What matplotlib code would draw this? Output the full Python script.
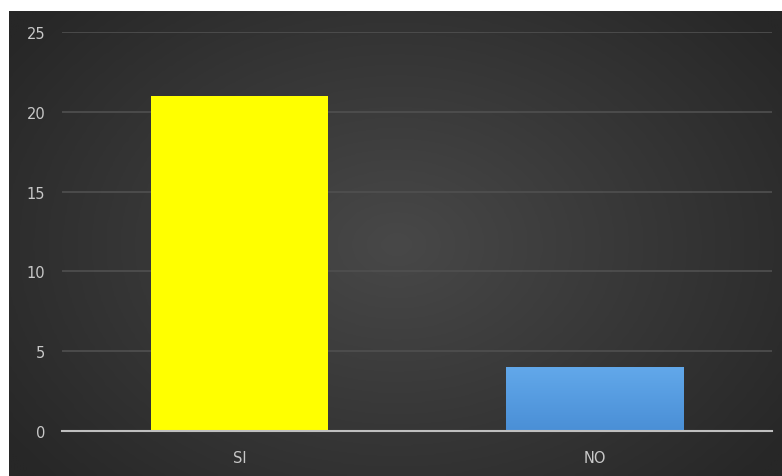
import numpy as np
import matplotlib
matplotlib.use("Agg")
import matplotlib.pyplot as plt
from matplotlib.colors import LinearSegmentedColormap

categories = ["SI", "NO"]
values = [21, 4]
y_ticks = [0, 5, 10, 15, 20, 25]

W, H = 782, 477
fig = plt.figure(figsize=(W / 100, H / 100), dpi=100)
fig.patch.set_facecolor("white")

# dark radial-gradient background (leaves white margin at top and left)
bx0, by1 = 9 / W, (H - 12) / H
bg = fig.add_axes([bx0, 0, 1 - bx0, by1])
bg.set_axis_off()
ny, nx = 200, 330
yy, xx = np.mgrid[0:ny, 0:nx]
cx, cy = nx * 0.5, ny * 0.5
r = np.sqrt(((xx - cx) / (nx * 0.62)) ** 2 + ((yy - cy) / (ny * 0.75)) ** 2)
r = np.clip(r, 0, 1)
cmap_bg = LinearSegmentedColormap.from_list("bg", ["#484848", "#272727"])
bg.imshow(r, cmap=cmap_bg, aspect="auto", extent=[0, 1, 0, 1], interpolation="bilinear")
bg.set_xlim(0, 1)
bg.set_ylim(0, 1)

ax = fig.add_axes([62 / W, 45 / H, 710 / W, (432 - 33) / H])
ax.set_facecolor("none")
x = np.arange(len(categories))
bars = ax.bar(x, values, width=0.5, color=["#ffff00", "#5b9bd5"], zorder=3)

# gradient on the blue bar
b = bars[1]
grad = np.linspace(0, 1, 100).reshape(-1, 1)
cmap_blue = LinearSegmentedColormap.from_list("bl", ["#4a8fd6", "#62a8ea"])
im = ax.imshow(grad, cmap=cmap_blue, aspect="auto", origin="lower",
               extent=[b.get_x(), b.get_x() + b.get_width(), 0, b.get_height()],
               zorder=4)
im.set_clip_path(b)

ax.set_xlim(-0.5, 1.5)
ax.set_ylim(0, 25)
ax.set_yticks(y_ticks)
ax.set_xticks(x)
ax.set_xticklabels(categories)
ax.yaxis.grid(True, color="#505050", linewidth=1.2, zorder=0)
ax.set_axisbelow(True)
for s in ["top", "right", "left"]:
    ax.spines[s].set_visible(False)
ax.spines["bottom"].set_color("#bfbfbf")
ax.spines["bottom"].set_linewidth(1.5)
ax.spines["bottom"].set_zorder(5)
ax.tick_params(axis="both", length=0, colors="#c8c8c8", labelsize=10.5)
ax.tick_params(axis="y", pad=12)
ax.tick_params(axis="x", pad=14)

fig.savefig("out.png", dpi=100)
